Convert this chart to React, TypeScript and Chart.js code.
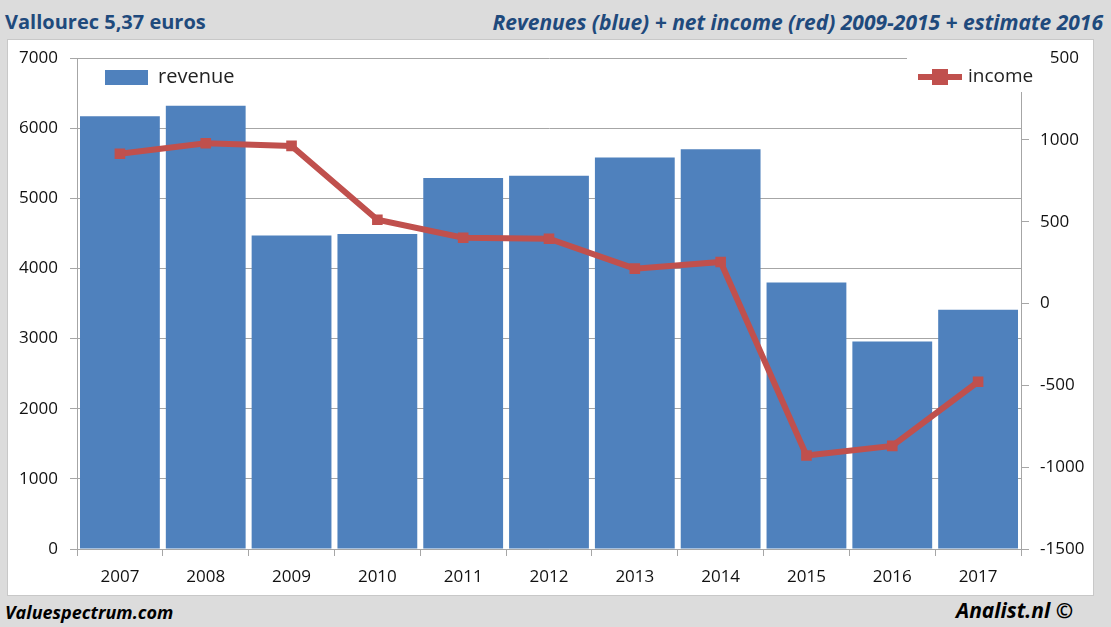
import React, { useEffect, useRef } from "react";
import { Chart, registerables } from "chart.js";

Chart.register(...registerables);

const categories = ["2007", "2008", "2009", "2010", "2011", "2012", "2013", "2014", "2015", "2016", "2017"];
const revenue = [6170, 6320, 4470, 4490, 5290, 5320, 5580, 5700, 3800, 2960, 3410];
const income = [915, 979, 963, 512, 402, 396, 213, 254, -929, -870, -478];

const BLUE = "#4f81bd";
const RED = "#c0504d";
const GRID = "#a6a6a6";
const FONT = "'Open Sans', 'Noto Sans', sans-serif";

const legendPlugin = {
  id: "customLegends",
  afterDraw(chart: any) {
    const ctx = chart.ctx;
    ctx.save();
    // revenue legend
    ctx.fillStyle = BLUE;
    ctx.fillRect(97, 30, 43, 15);
    ctx.fillStyle = "#222";
    ctx.font = `20px ${FONT}`;
    ctx.textBaseline = "middle";
    ctx.textAlign = "left";
    ctx.fillText("revenue", 150, 37);
    // income legend (white box over the corner)
    ctx.fillStyle = "#ffffff";
    ctx.fillRect(899, 4, 144, 48);
    ctx.strokeStyle = RED;
    ctx.lineWidth = 6;
    ctx.beginPath();
    ctx.moveTo(910, 37);
    ctx.lineTo(954, 37);
    ctx.stroke();
    ctx.fillStyle = RED;
    ctx.fillRect(924, 29, 16, 16);
    ctx.fillStyle = "#222";
    ctx.font = `19px ${FONT}`;
    ctx.fillText("income", 960, 37);
    ctx.restore();
  },
};

const plain = (v: any) => String(v);

export default function App() {
  const ref = useRef<HTMLCanvasElement | null>(null);
  useEffect(() => {
    if (!ref.current) return;
    const chart = new Chart(ref.current, {
      type: "bar",
      data: {
        labels: categories,
        datasets: [
          {
            type: "line",
            label: "income",
            data: income,
            yAxisID: "yR",
            borderColor: RED,
            backgroundColor: RED,
            borderWidth: 6,
            pointStyle: "rect",
            pointRadius: 7.5,
            pointBackgroundColor: RED,
            pointBorderWidth: 0,
            tension: 0,
            order: 0,
          } as any,
          {
            type: "bar",
            label: "revenue",
            data: revenue,
            yAxisID: "yL",
            backgroundColor: BLUE,
            borderWidth: 0,
            barPercentage: 0.93,
            categoryPercentage: 1,
            order: 1,
          },
        ],
      },
      options: {
        responsive: false,
        animation: false,
        layout: { padding: { top: 18, left: 0, right: 0, bottom: 0 } },
        plugins: { legend: { display: false }, tooltip: { enabled: false } },
        scales: {
          x: {
            offset: true,
            grid: { offset: true, drawOnChartArea: false, color: GRID, tickLength: 7 },
            border: { display: true, color: GRID },
            ticks: { color: "#111", font: { family: FONT, size: 17 }, padding: 11 },
            afterFit(scale: any) {
              scale.height = 46;
            },
          },
          yL: {
            position: "left",
            min: 0,
            max: 7000,
            ticks: { stepSize: 1000, color: "#111", font: { family: FONT, size: 17 }, padding: 12, callback: plain },
            grid: { color: GRID, tickLength: 7 },
            border: { display: true, color: GRID },
            afterFit(scale: any) {
              scale.width = 69;
              scale.paddingTop = 0;
              scale.paddingBottom = 0;
            },
          },
          yR: {
            position: "right",
            min: -1500,
            max: 1500,
            ticks: { stepSize: 500, color: "#111", font: { family: FONT, size: 17 }, padding: 11, callback: plain },
            grid: { drawOnChartArea: false, color: GRID, tickLength: 8 },
            border: { display: true, color: GRID },
            afterFit(scale: any) {
              scale.width = 72;
              scale.paddingTop = 0;
              scale.paddingBottom = 0;
            },
          },
        },
      },
      plugins: [legendPlugin],
    });
    return () => chart.destroy();
  }, []);

  const foot = {
    position: "absolute" as const,
    top: 598,
    fontWeight: 700,
    fontStyle: "italic",
    color: "#000",
    lineHeight: "28px",
    whiteSpace: "nowrap" as const,
  };

  return (
    <div
      style={{
        position: "absolute",
        left: 0,
        top: 0,
        width: 1111,
        height: 627,
        background: "#dcdcdc",
        overflow: "hidden",
        fontFamily: FONT,
      }}
    >
      <div
        style={{
          position: "absolute",
          left: 5,
          top: 8,
          fontSize: 20,
          fontWeight: 700,
          color: "#1f4a7c",
          lineHeight: "28px",
          whiteSpace: "nowrap",
        }}
      >
        Vallourec 5,37 euros
      </div>
      <div
        style={{
          position: "absolute",
          right: 8,
          top: 8,
          fontSize: 21,
          fontWeight: 700,
          fontStyle: "italic",
          color: "#1f4a7c",
          lineHeight: "28px",
          whiteSpace: "nowrap",
        }}
      >
        Revenues (blue) + net income (red) 2009-2015 + estimate 2016
      </div>
      <div
        style={{
          position: "absolute",
          left: 8,
          top: 40,
          width: 1085,
          height: 555,
          background: "#ffffff",
          boxShadow: "0 0 0 1px #c8c8c8",
        }}
      >
        <canvas ref={ref} width={1085} height={555} style={{ display: "block" }} />
      </div>
      <div style={{ ...foot, left: 5, fontSize: 18 }}>Valuespectrum.com</div>
      <div style={{ ...foot, left: 956, fontSize: 21, top: 596 }}>Analist.nl ©</div>
    </div>
  );
}
